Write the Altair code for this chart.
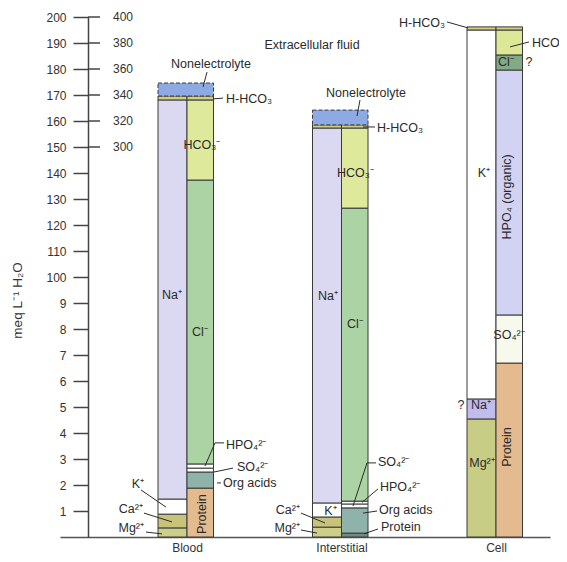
import json
import altair as alt
import pandas as pd

# ---------------- data ----------------
fluids = ["Blood Plasma", "Interstitial fluid", "Cell fluid"]
fluid_label_lines = [["Blood", "Plasma"], ["Interstitial", "fluid"], ["Cell", "fluid"]]

# cation column, bottom -> top (meq)
cation_names = [
    ["Mg²⁺", "Ca²⁺", "K⁺", "Na⁺"],
    ["Mg²⁺", "Ca²⁺", "K⁺", "Na⁺"],
    ["Mg²⁺", "Na⁺", "K⁺"],
]
cation_values = [
    [3.5, 5.3, 5.8, 153.5],
    [3.8, 3.9, 5.4, 144.2],
    [45.4, 7.7, 141.9],
]

# anion column, bottom -> top (meq)
anion_names = [
    ["Protein", "Org acids", "SO₄²⁻", "HPO₄²⁻", "Cl⁻", "HCO₃⁻"],
    ["Protein", "Org acids", "SO₄²⁻", "HPO₄²⁻", "Cl⁻", "HCO₃⁻"],
    ["Protein", "SO₄²⁻", "HPO₄ (organic)", "Cl⁻", "HCO₃⁻"],
]
anion_values = [
    [18.8, 6.2, 1.5, 1.6, 109.2, 30.8],
    [1.5, 9.7, 1.5, 1.1, 112.7, 30.8],
    [66.9, 18.5, 94.2, 5.8, 9.6],
]

# layers on top of both columns
cap_names = [["H-HCO₃", "Nonelectrolyte"], ["H-HCO₃", "Nonelectrolyte"], ["H-HCO₃"]]
cap_values = [[1.5, 5.0], [1.2, 5.7], [1.2]]

y_tick_values = [10, 20, 30, 40, 50, 60, 70, 80, 90, 100,
                 110, 120, 130, 140, 150, 160, 170, 180, 190, 200]
y_tick_labels = ["1", "2", "3", "4", "5", "6", "7", "8", "9", "100",
                 "110", "120", "130", "140", "150", "160", "170", "180", "190", "200"]
right_tick_values = [150, 160, 170, 180, 190, 200]
right_tick_labels = ["300", "320", "340", "360", "380", "400"]
axis_title = "meq L⁻¹ H₂O"

# ---------------- styles ----------------
palette = {
    "Nonelectrolyte": "#8eaae4",
    "H-HCO₃": "#d3cd80",
    "Na⁺": "#dbd8f1",
    "K⁺": "#ffffff",
    "Ca²⁺": "#c8c37b",
    "Mg²⁺": "#cbcf8a",
    "HCO₃⁻": "#dfe99c",
    "Cl⁻": "#acd3a4",
    "HPO₄²⁻": "#ffffff",
    "SO₄²⁻": "#ffffff",
    "Org acids": "#8fb3ab",
    "Protein": "#e3bb8f",
    "HPO₄ (organic)": "#d2d2f2",
}
overrides = {
    (1, "Protein"): "#6f8d84",
    (2, "Na⁺"): "#c0bcec",
    (2, "Cl⁻"): "#82aa86",
    (2, "SO₄²⁻"): "#f7f9ec",
    (2, "HCO₃⁻"): "#dce895",
    (2, "Mg²⁺"): "#c8cd86",
}
INK = "#2b2b2b"
LINE = "#3a3a3a"
FONT = "Liberation Sans"
FS = 12.5

# layout (pixels)
STEP = 154.5                 # px between fluid groups
CAT_W = 29 / STEP            # cation column width in x units
AN_W = 26.5 / STEP           # anion column width in x units
X_DOMAIN = [1 - 127 / STEP, 1 + 363 / STEP]
W, H = 490, 520

xs = alt.Scale(domain=X_DOMAIN, nice=False, zero=False)
ys = alt.Scale(domain=[0, 200], nice=False, zero=False)

# ---------------- table of segments ----------------
rows = []
for i, fl in enumerate(fluids):
    c = i + 1
    base = 0.0
    for n, v in zip(cation_names[i], cation_values[i]):
        rows.append(dict(fluid=fl, name=n, x0=c - CAT_W, x1=c, y0=base, y1=base + v,
                         fill=overrides.get((i, n), palette[n]), dashed=False))
        base += v
    top_c = base
    base = 0.0
    for n, v in zip(anion_names[i], anion_values[i]):
        rows.append(dict(fluid=fl, name=n, x0=c, x1=c + AN_W, y0=base, y1=base + v,
                         fill=overrides.get((i, n), palette[n]), dashed=False))
        base += v
    top = max(top_c, base)
    for n, v in zip(cap_names[i], cap_values[i]):
        if n == "Nonelectrolyte":
            rows.append(dict(fluid=fl, name=n, x0=c - CAT_W, x1=c + AN_W, y0=top, y1=top + v,
                             fill=palette[n], dashed=True))
        else:
            for a, b in ((c - CAT_W, c), (c, c + AN_W)):
                rows.append(dict(fluid=fl, name=n, x0=a, x1=b, y0=top, y1=top + v,
                                 fill=palette[n], dashed=False))
        top += v
bars = pd.DataFrame(rows)

# ---------------- annotations: (text, fluid #, dx px from divider, meq, style) ----------------
annotations = [
    ("Extracellular fluid", 1, 125, 189.2, "center"),
    ("Nonelectrolyte", 1, 24, 181.9, "center"),
    ("HCO₃⁻", 1, 15, 150.8, "center"),
    ("Na⁺", 1, -15, 93.1, "center"),
    ("Cl⁻", 1, 13, 78.8, "center"),
    ("H-HCO₃", 1, 39, 168.5, "left"),
    ("HPO₄²⁻", 1, 39, 35.4, "left"),
    ("SO₄²⁻", 1, 50, 26.9, "left"),
    ("Org acids", 1, 36, 20.8, "left"),
    ("K⁺", 1, -43, 20.4, "right"),
    ("Ca²⁺", 1, -44, 10.8, "right"),
    ("Mg²⁺", 1, -43, 3.5, "right"),
    ("Protein", 1, 15, 8.8, "rot"),

    ("Nonelectrolyte", 2, 24.5, 170.8, "center"),
    ("HCO₃⁻", 2, 14, 140.0, "center"),
    ("Na⁺", 2, -13.5, 92.7, "center"),
    ("Cl⁻", 2, 13.5, 81.9, "center"),
    ("K⁺", 2, -11, 10.0, "center"),
    ("H-HCO₃", 2, 35.5, 157.3, "left"),
    ("SO₄²⁻", 2, 36.5, 28.8, "left"),
    ("HPO₄²⁻", 2, 38.5, 19.2, "left"),
    ("Org acids", 2, 37.5, 10.4, "left"),
    ("Protein", 2, 39.5, 3.8, "left"),
    ("Ca²⁺", 2, -41.5, 10.4, "right"),
    ("Mg²⁺", 2, -41.5, 3.5, "right"),

    ("H-HCO₃", 3, -51, 197.7, "right"),
    ("HCO₃⁻", 3, 36, 190.0, "left"),
    ("Cl⁻", 3, 10, 182.7, "center"),
    ("?", 3, 33, 182.7, "center"),
    ("K⁺", 3, -12, 140.0, "center"),
    ("SO₄²⁻", 3, 13, 77.7, "center"),
    ("Na⁺", 3, -15, 50.8, "center"),
    ("?", 3, -35, 50.8, "center"),
    ("Mg²⁺", 3, -14, 28.5, "center"),
    ("HPO₄ (organic)", 3, 11, 130.8, "rot"),
    ("Protein", 3, 11, 34.6, "rot"),
]
ann = pd.DataFrame(annotations, columns=["text", "fluid", "dx", "y", "style"])
ann["u"] = ann["fluid"] + ann["dx"] / STEP

# leader lines: (fluid #, [(dx px, meq), ...])
leaders = [
    (1, [(20, 178.8), (16, 173.1)]),
    (1, [(26, 168.5), (36, 168.8)]),
    (1, [(37, 36.2), (28, 36.2), (18, 27.3)]),
    (1, [(46, 26.5), (27, 25.0)]),
    (1, [(30, 20.8), (34, 20.8)]),
    (1, [(-46, 18.1), (-21, 11.5)]),
    (1, [(-43, 9.2), (-15, 5.8)]),
    (1, [(-41, 1.9), (-25, 1.2)]),
    (2, [(18.5, 168.1), (15.5, 161.9)]),
    (2, [(21.5, 157.7), (33.5, 157.7)]),
    (2, [(34.5, 28.5), (25.5, 28.5), (11.5, 11.9)]),
    (2, [(36.5, 18.5), (20.5, 13.3)]),
    (2, [(35.5, 10.0), (21.5, 9.2)]),
    (2, [(36.5, 3.1), (22.5, 1.2)]),
    (2, [(-40.5, 9.2), (-16.5, 5.4)]),
    (2, [(-40.5, 2.7), (-24.5, 1.5)]),
    (3, [(-49, 198.1), (-28, 195.8)]),
    (3, [(14, 188.5), (33, 190.4)]),
]
lrows = []
for lid, (f, pts) in enumerate(leaders):
    for k, (dx, yv) in enumerate(pts):
        lrows.append(dict(id=lid, k=k, u=f + dx / STEP, y=yv))
lead = pd.DataFrame(lrows)

right_ticks = pd.DataFrame({"v": right_tick_values, "lab": right_tick_labels})

# ---------------- axes ----------------
y_label_expr = f"{json.dumps(y_tick_labels)}[indexof({json.dumps(y_tick_values)}, datum.value)]"
x_label_expr = f"{json.dumps(fluid_label_lines)}[datum.value - 1]"

y_axis = alt.Axis(
    orient="left", offset=-28, values=y_tick_values, labelExpr=y_label_expr,
    domain=True, domainColor="#444", domainWidth=1.5,
    ticks=True, tickSize=15, tickColor="#444", tickWidth=1.5,
    labelPadding=7, labelFontSize=12, labelColor="#333", labelFont=FONT,
    labelOverlap=False, grid=False,
    title=axis_title, titleFont=FONT, titleFontSize=13.5, titleFontWeight="normal",
    titleColor="#333", titleAngle=270, titleAlign="center", titleBaseline="middle",
    titleX=-71, titleY=283,
)
x_axis = alt.Axis(
    orient="bottom", values=[1, 2, 3], labelExpr=x_label_expr,
    domain=True, domainColor="#555", domainWidth=1.5,
    ticks=False, tickSize=0, labelPadding=5, labelFontSize=12, labelLineHeight=13,
    labelColor="#333", labelFont=FONT, labelOverlap=False, labelFlush=False,
    grid=False, title=None,
)

# ---------------- layers ----------------
bars_solid = alt.Chart(bars[~bars["dashed"]]).mark_rect(stroke=LINE, strokeWidth=1).encode(
    x=alt.X("x0:Q", scale=xs, axis=x_axis),
    x2="x1:Q",
    y=alt.Y("y0:Q", scale=ys, axis=y_axis),
    y2="y1:Q",
    fill=alt.Fill("fill:N", scale=None),
)
bars_dashed = alt.Chart(bars[bars["dashed"]]).mark_rect(
    stroke=LINE, strokeWidth=1, strokeDash=[4, 2]
).encode(
    x=alt.X("x0:Q", scale=xs, axis=x_axis),
    x2="x1:Q",
    y=alt.Y("y0:Q", scale=ys, axis=y_axis),
    y2="y1:Q",
    fill=alt.Fill("fill:N", scale=None),
)

lead_layer = alt.Chart(lead).mark_line(color=INK, strokeWidth=1).encode(
    x=alt.X("u:Q", scale=xs, axis=x_axis),
    y=alt.Y("y:Q", scale=ys, axis=y_axis),
    detail="id:N",
    order="k:Q",
)


def text_layer(style, **kw):
    return alt.Chart(ann[ann["style"] == style]).mark_text(
        font=FONT, fontSize=FS, color=INK, baseline="middle", **kw
    ).encode(
        x=alt.X("u:Q", scale=xs, axis=x_axis),
        y=alt.Y("y:Q", scale=ys, axis=y_axis),
        text="text:N",
    )


t_center = text_layer("center", align="center")
t_left = text_layer("left", align="left")
t_right = text_layer("right", align="right")
t_rot = text_layer("rot", align="center", angle=270)

rt_rules = alt.Chart(right_ticks).mark_rule(color="#444", strokeWidth=1.5).encode(
    x=alt.value(28), x2=alt.value(40),
    y=alt.Y("v:Q", scale=ys, axis=y_axis),
)
rt_text = alt.Chart(right_ticks).mark_text(
    font=FONT, fontSize=12, color="#333", align="left", baseline="middle"
).encode(
    x=alt.value(53),
    y=alt.Y("v:Q", scale=ys, axis=y_axis),
    text="lab:N",
)

chart = alt.layer(
    bars_solid, bars_dashed, lead_layer, t_center, t_left, t_right, t_rot, rt_rules, rt_text
).properties(
    width=W, height=H,
    autosize=alt.AutoSizeParams(type="none"),
    padding={"left": 52, "top": 9, "right": 9, "bottom": 17},
    background="white",
).configure_view(stroke=None)

chart.save("out.html", embed_options={"renderer": "svg", "actions": False})
